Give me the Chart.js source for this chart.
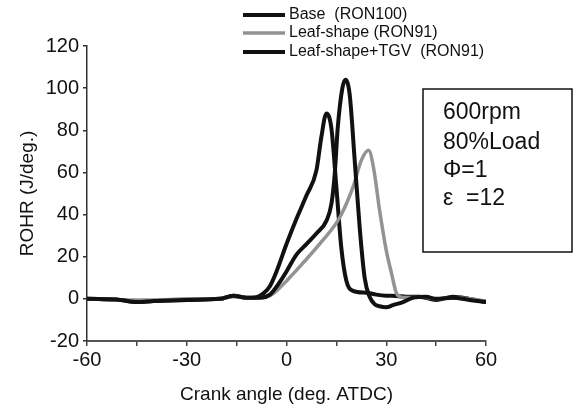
<!DOCTYPE html>
<html lang="en">
<head>
  <meta charset="UTF-8">
  <title>ROHR vs crank angle</title>
  <script src="https://cdn.jsdelivr.net/npm/chart.js"></script>
  <style>
    html, body { margin: 0; padding: 0; background: #fff; }
    .wrap { position: relative; width: 573px; height: 410px; }
  </style>
</head>
<body>
<div class="wrap">
  <canvas id="rohrChart" width="573" height="410"></canvas>
</div>

<script>
  // values
  const seriesNames = ['Base  (RON100)', 'Leaf-shape (RON91)', 'Leaf-shape+TGV  (RON91)'];

  const baseAngle = [-60, -50, -45, -40, -30, -20, -16, -12, -8, -5, -2, 0, 3, 6, 9, 12, 13.5, 14.5, 15.4, 16.8, 17.7, 19, 20.5, 22, 23.5, 25, 26.5, 28, 30, 32, 35, 38, 42, 45, 50, 55, 60];
  const baseRohr  = [0, -0.5, -1.5, -1, -0.5, 0, 1.5, 0.5, 0.5, 2, 8, 13, 21, 26, 31, 37, 45, 59, 81, 100, 104, 97, 66, 34, 10, 1, -2.5, -3.5, -4, -3, -1.5, 0.5, 1, 0, 0.5, -0.5, -1.5];

  const leafAngle = [-60, -50, -40, -30, -20, -16, -12, -8, -5, -3, 0, 4.8, 10.8, 16, 20, 22.5, 24.7, 26.2, 28, 30, 31.6, 33, 34.5, 37, 40, 45, 50, 55, 60];
  const leafRohr  = [0, -0.5, -0.5, 0, 0, 1, 0.5, 0.5, 1.5, 3.8, 8.5, 16.7, 27.6, 38.6, 53, 65.7, 70.5, 62, 42, 23, 12, 3, 0.8, 0.6, 1, 0, 0.5, 0, -1];

  const tgvAngle = [-60, -50, -45, -40, -30, -20, -16, -12, -9, -7, -5, -3, 0, 3, 6, 9, 10.5, 12, 13.5, 15, 16.5, 18, 20, 24, 27, 30, 33, 36, 40, 45, 50, 55, 60];
  const tgvRohr  = [0, -0.5, -1.5, -1, -0.5, 0, 1.5, 0.5, 0.8, 2.5, 6, 13, 26, 38, 49, 61, 77, 88, 81, 53, 24, 8.6, 3.8, 2.9, 2, 1.5, 1.4, 1, 1, -0.5, 1, 0, -1.5];

  const xTicks = [-60, -30, 0, 30, 60];
  const yTicks = [-20, 0, 20, 40, 60, 80, 100, 120];

  const boxLines = ['600rpm', '80%Load', '\u03A6=1', '\u03B5  =12'];

  function toPoints(xs, ys) {
    return xs.map((x, i) => ({ x: x, y: ys[i] }));
  }

  const lineColors = ['#111111', '#939393', '#111111'];
  const lineWidths = [4, 3.5, 4];

  // legend and condition box drawn on top of the plot
  const overlayPlugin = {
    id: 'overlay',
    afterDraw(chart) {
      const ctx = chart.ctx;
      ctx.save();
      // legend
      ctx.font = '16px "Liberation Sans", Arial, sans-serif';
      ctx.textBaseline = 'middle';
      ctx.fillStyle = '#111';
      const rows = [15, 33, 52];
      seriesNames.forEach((name, i) => {
        ctx.strokeStyle = lineColors[i];
        ctx.lineWidth = lineWidths[i];
        ctx.beginPath();
        ctx.moveTo(243, rows[i]);
        ctx.lineTo(285, rows[i]);
        ctx.stroke();
        ctx.fillText(name, 289, rows[i]);
      });
      // condition box
      ctx.strokeStyle = '#111';
      ctx.lineWidth = 1.5;
      ctx.strokeRect(423, 89, 149, 163);
      ctx.font = '23px "Liberation Sans", Arial, sans-serif';
      const ty = [113, 143, 171, 199];
      boxLines.forEach((t, i) => ctx.fillText(t, 443, ty[i]));
      ctx.restore();
    }
  };

  const tickFont = { family: '"Liberation Sans", Arial, sans-serif', size: 20 };
  const titleFont = { family: '"Liberation Sans", Arial, sans-serif', size: 19 };

  new Chart(document.getElementById('rohrChart').getContext('2d'), {
    type: 'line',
    data: {
      datasets: [
        { label: seriesNames[0], data: toPoints(baseAngle, baseRohr) },
        { label: seriesNames[1], data: toPoints(leafAngle, leafRohr) },
        { label: seriesNames[2], data: toPoints(tgvAngle, tgvRohr) }
      ].map((d, i) => Object.assign(d, {
        borderColor: lineColors[i],
        borderWidth: lineWidths[i],
        pointRadius: 0,
        fill: false,
        cubicInterpolationMode: 'monotone'
      }))
    },
    options: {
      responsive: false,
      animation: false,
      layout: { padding: { top: 46, right: 87, left: 0, bottom: 0 } },
      plugins: { legend: { display: false }, tooltip: { enabled: false } },
      scales: {
        x: {
          type: 'linear',
          min: -60, max: 60,
          afterFit(scale) { scale.height = 69; },
          afterBuildTicks(scale) {
            scale.ticks = [];
            for (let v = -60; v <= 60; v += 15) scale.ticks.push({ value: v });
          },
          ticks: {
            color: '#111', font: tickFont, padding: 2, maxRotation: 0,
            callback: v => xTicks.includes(v) ? String(v) : ''
          },
          grid: { drawOnChartArea: false, tickLength: 5, color: '#444', lineWidth: 1.5 },
          border: { color: '#555', width: 2 },
          title: {
            display: true, text: 'Crank angle (deg. ATDC)', color: '#111',
            font: titleFont, padding: { top: 4, bottom: 4 }
          }
        },
        y: {
          min: -20, max: 120,
          afterFit(scale) { scale.width = 87; },
          afterBuildTicks(scale) {
            scale.ticks = [];
            for (let v = -20; v <= 120; v += 10) scale.ticks.push({ value: v });
          },
          ticks: {
            color: '#111', font: tickFont, padding: 4,
            callback: v => yTicks.includes(v) ? String(v) : ''
          },
          grid: { drawOnChartArea: false, tickLength: 4, color: '#333', lineWidth: 1.5 },
          border: { color: '#333', width: 1.5 },
          title: {
            display: true, text: 'ROHR (J/deg.)', color: '#111',
            font: titleFont, padding: { top: 16, bottom: 0 }
          }
        }
      }
    },
    plugins: [overlayPlugin]
  });
</script>
</body>
</html>
